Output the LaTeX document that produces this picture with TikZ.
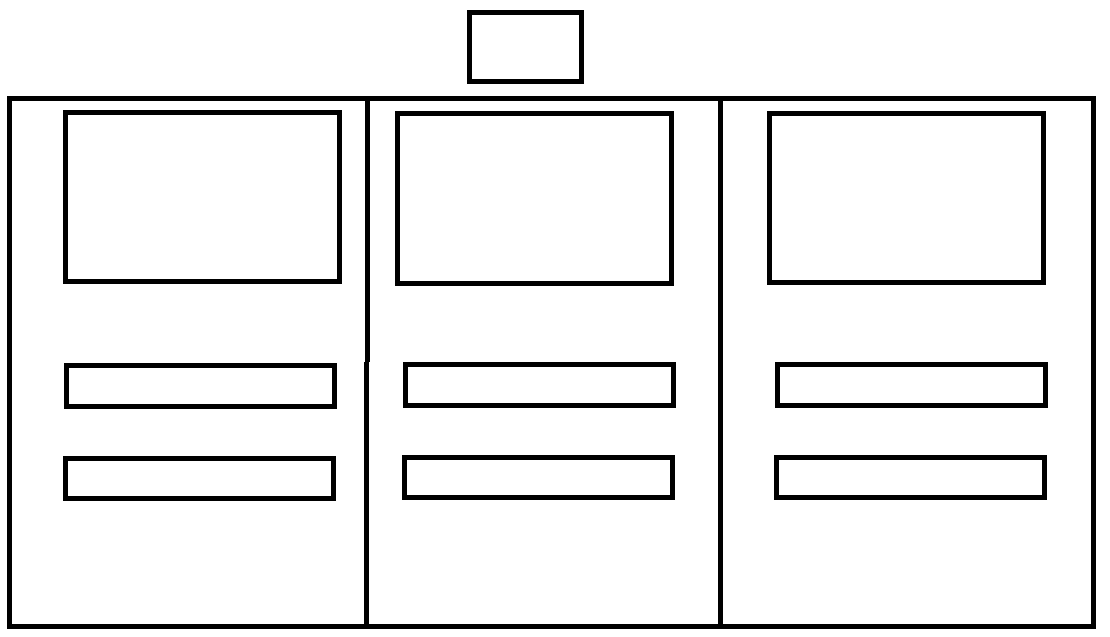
\documentclass[tikz,border=0pt]{standalone}
\begin{document}
\begin{tikzpicture}[x=0.01cm,y=-0.01cm,line width=0.05cm]
                \useasboundingbox (0,0) rectangle (1110,636);

                \draw (469,12.5) rectangle (581.5,81);
                \draw (9.8,98.2) rectangle (1093.5,626.2);
                \draw (367.3,96) -- (367.3,361.5);
                \draw (366.3,361.5) -- (366.3,626.2);
                \draw (720.7,98.2) -- (720.7,629);

                \draw (65.8,112.5) rectangle (339.5,281.5);
                \draw (66.3,365.3) rectangle (334.3,406.3);
                \draw (65.7,458.7) rectangle (333.3,498);

                \draw (397.5,113.5) rectangle (671.5,283.2);
                \draw (405.3,364.3) rectangle (673.3,405);
                \draw (404.3,457.3) rectangle (672.3,497.3);

                \draw (769.5,113.5) rectangle (1043.2,282.5);
                \draw (777.3,364.3) rectangle (1045,405);
                \draw (776.7,457.3) rectangle (1044.3,497.3);
            \end{tikzpicture}
\end{document}
